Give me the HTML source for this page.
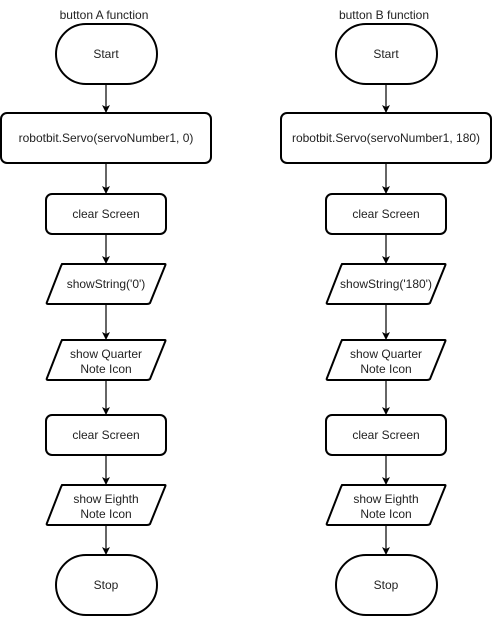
<!DOCTYPE html>
<html><head><style>body{margin:0;background:#fff}</style></head><body>
<svg width="492" height="617" xmlns="http://www.w3.org/2000/svg" font-family="Liberation Sans, Arial, sans-serif" font-size="12" fill="#000">
<defs>
<marker id="a" markerWidth="8" markerHeight="8" refX="7" refY="4" orient="auto" markerUnits="userSpaceOnUse"><path d="M0,0 L8,4 L0,8 L2,4 Z" fill="#000"/></marker>
<g id="col">
<g fill="#fff" stroke="#000" stroke-width="2">
<rect x="56" y="24" width="101" height="60" rx="30" ry="30"/>
<rect x="46" y="194" width="120" height="40" rx="6"/>
<path d="M62,264 L165,264 Q166,264 165,266 L150,303 Q149,304 147,304 L48,304 Q46,304 47,302 L61,266 Z"/>
<path d="M62,340 L165,340 Q166,340 165,342 L150,379 Q149,380 147,380 L48,380 Q46,380 47,378 L61,342 Z"/>
<rect x="46" y="415" width="120" height="40" rx="6"/>
<path d="M62,485 L165,485 Q166,485 165,487 L150,524 Q149,525 147,525 L48,525 Q46,525 47,523 L61,487 Z"/>
<rect x="56" y="555" width="101" height="60" rx="30" ry="30"/>
</g>
<g stroke="#000" stroke-width="1.2" marker-end="url(#a)">
<line x1="106" y1="84" x2="106" y2="112"/>
<line x1="106" y1="163" x2="106" y2="193"/>
<line x1="106" y1="234" x2="106" y2="263"/>
<line x1="106" y1="304" x2="106" y2="339"/>
<line x1="106" y1="380" x2="106" y2="414"/>
<line x1="106" y1="455" x2="106" y2="484"/>
<line x1="106" y1="525" x2="106" y2="554"/>
</g>
<g text-anchor="middle" fill="#222">
<text x="106" y="58">Start</text>
<text x="106" y="218">clear Screen</text>
<text x="106" y="358">show Quarter</text>
<text x="106" y="373">Note Icon</text>
<text x="106" y="439">clear Screen</text>
<text x="106" y="503">show Eighth</text>
<text x="106" y="518">Note Icon</text>
<text x="106" y="589">Stop</text>
</g>
</g>
</defs>
<use href="#col"/>
<use href="#col" x="280"/>
<g fill="#fff" stroke="#000" stroke-width="2">
<rect x="1" y="113" width="210" height="50" rx="6"/>
<rect x="281" y="113" width="210" height="50" rx="6"/>
</g>
<g text-anchor="middle" fill="#222">
<text x="104" y="19">button A function</text>
<text x="384" y="19">button B function</text>
<text x="106" y="142">robotbit.Servo(servoNumber1, 0)</text>
<text x="386" y="142">robotbit.Servo(servoNumber1, 180)</text>
<text x="106" y="288">showString('0')</text>
<text x="386" y="288">showString('180')</text>
</g>
</svg>
</body></html>
